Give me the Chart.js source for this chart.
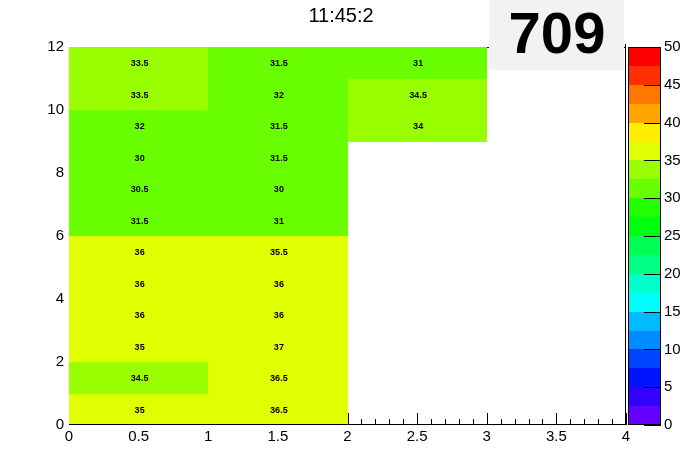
<!DOCTYPE html>
<html><head><meta charset="utf-8">
<script src="https://cdn.jsdelivr.net/npm/chart.js@4.4.1/dist/chart.umd.min.js"></script>
<style>html,body{margin:0;padding:0;background:#fff;}#wrap{width:696px;height:472px;position:relative;}</style>
</head><body><div id="wrap"><canvas id="c" width="696" height="472"></canvas></div>
<script>
// bin centres along x and y
const xCenters = [0.5, 1.5, 2.5];
const yCenters = [0.5, 1.5, 2.5, 3.5, 4.5, 5.5, 6.5, 7.5, 8.5, 9.5, 10.5, 11.5];
// cell values per column (bottom to top); null = empty
const col0 = [35, 34.5, 35, 36, 36, 36, 31.5, 30.5, 30, 32, 33.5, 33.5];
const col1 = [36.5, 36.5, 37, 36, 36, 35.5, 31, 30, 31.5, 31.5, 32, 31.5];
const col2 = [null, null, null, null, null, null, null, null, null, 34, 34.5, 31];
const xTickLabels = ['0','0.5','1','1.5','2','2.5','3','3.5','4'];
const yTickLabels = ['0','2','4','6','8','10','12'];
const zTickLabels = ['0','5','10','15','20','25','30','35','40','45','50'];
const titleText = '11:45:2';
const bigNumber = '709';
const zMin = 0, zMax = 50, nContours = 20;

const cols = [col0, col1, col2];
const cells = [];
cols.forEach((col, i) => col.forEach((v, j) => { if (v !== null) cells.push({x: xCenters[i], y: yCenters[j], v: v}); }));

const FONT = "'Liberation Sans', Arial, Helvetica, sans-serif";
function bandColor(b) {
  const idx = Math.floor((b + 0.99) * 50 / nContours);
  const hue = 280 - (idx + 1) * 5.6;
  return 'hsl(' + hue + ',100%,50%)';
}
function valueColor(v) {
  let b = Math.floor(0.01 + (v - zMin) * nContours / (zMax - zMin));
  b = Math.max(0, Math.min(nContours - 1, b));
  return bandColor(b);
}

const heatPlugin = {
  id: 'heat',
  beforeDatasetsDraw(chart) {
    const ctx = chart.ctx, xs = chart.scales.x, ys = chart.scales.y, zs = chart.scales.z;
    const a = chart.chartArea;
    const R = Math.round;
    ctx.save();
    // frame
    ctx.strokeStyle = '#000'; ctx.lineWidth = 1;
    ctx.strokeRect(a.left + 0.5, a.top + 0.5, a.right - a.left - 1, a.bottom - a.top - 1);
    // x ticks inward
    ctx.beginPath();
    for (let k = 0; k <= 40; k++) {
      const v = k / 10;
      const px = R(xs.getPixelForValue(v)) + 0.5;
      const len = (k % 5 === 0) ? 12 : 6;
      ctx.moveTo(px, a.bottom); ctx.lineTo(px, a.bottom - len);
    }
    ctx.stroke();
    // cells
    const ds = chart.data.datasets[0].data;
    ds.forEach(c => {
      const x0 = R(xs.getPixelForValue(c.x - 0.5)), x1 = R(xs.getPixelForValue(c.x + 0.5));
      const y0 = R(ys.getPixelForValue(c.y + 0.5)), y1 = R(ys.getPixelForValue(c.y - 0.5));
      ctx.fillStyle = valueColor(c.v);
      ctx.fillRect(x0, y0, x1 - x0, y1 - y0);
    });
    ctx.fillStyle = '#000';
    ctx.font = 'bold 9px ' + FONT;
    ctx.textAlign = 'center'; ctx.textBaseline = 'middle';
    ds.forEach(c => {
      ctx.fillText(String(c.v), xs.getPixelForValue(c.x) + 1, ys.getPixelForValue(c.y) + 1);
    });
    // bottom axis line & right frame
    ctx.beginPath();
    ctx.moveTo(a.left, a.bottom - 0.5); ctx.lineTo(a.right, a.bottom - 0.5);
    ctx.moveTo(a.right - 0.5, a.top - 3); ctx.lineTo(a.right - 0.5, a.bottom);
    ctx.stroke();
    // colour bar
    const cbL = R(a.right + 2), cbR = R(a.right + 35);
    for (let b = 0; b < nContours; b++) {
      const lo = zMin + b * (zMax - zMin) / nContours, hi = zMin + (b + 1) * (zMax - zMin) / nContours;
      const py0 = R(zs.getPixelForValue(hi)), py1 = R(zs.getPixelForValue(lo));
      ctx.fillStyle = bandColor(b);
      ctx.fillRect(cbL, py0, cbR - cbL, py1 - py0);
    }
    ctx.strokeStyle = '#000';
    const zt = R(zs.getPixelForValue(zMax)), zb = R(zs.getPixelForValue(zMin));
    ctx.strokeRect(cbL + 0.5, zt + 0.5, cbR - cbL - 1, zb - zt - 1);
    ctx.beginPath();
    zTickLabels.forEach(t => {
      const py = R(zs.getPixelForValue(parseFloat(t))) + 0.5;
      ctx.moveTo(cbR, py); ctx.lineTo(cbR - 17, py);
    });
    ctx.stroke();
    // big number box
    ctx.fillStyle = '#f2f2f2';
    ctx.fillRect(489, 0, 135, 70);
    ctx.fillStyle = '#000';
    ctx.font = 'bold 58px ' + FONT;
    ctx.textAlign = 'center'; ctx.textBaseline = 'middle';
    ctx.fillText(bigNumber, 557, 37);
    // title
    ctx.font = '20px ' + FONT;
    ctx.fillText(titleText, 341, 16);
    ctx.restore();
  }
};

new Chart(document.getElementById('c'), {
  type: 'scatter',
  data: { datasets: [{ data: cells, pointRadius: 0, pointHoverRadius: 0, showLine: false }] },
  options: {
    responsive: false, animation: false, devicePixelRatio: 1,
    events: [],
    layout: { padding: { top: 46, left: 0, right: 0, bottom: 0 } },
    plugins: { legend: { display: false }, tooltip: { enabled: false }, title: { display: false } },
    scales: {
      x: {
        type: 'linear', min: 0, max: 4,
        afterBuildTicks(s) { s.ticks = xTickLabels.map(t => ({ value: parseFloat(t) })); },
        afterFit(s) { s.height = 47; },
        grid: { display: false, drawTicks: false }, border: { display: false },
        ticks: { padding: 3, color: '#000', font: { family: FONT, size: 15 }, maxRotation: 0, autoSkip: false,
          callback: (v, i) => xTickLabels[i] }
      },
      y: {
        type: 'linear', min: 0, max: 12,
        afterBuildTicks(s) { s.ticks = yTickLabels.map(t => ({ value: parseFloat(t) })); },
        afterFit(s) { s.width = 69; },
        grid: { display: false, drawTicks: false }, border: { display: false },
        ticks: { padding: 5, color: '#000', font: { family: FONT, size: 15 }, autoSkip: false,
          callback: (v, i) => yTickLabels[i] }
      },
      z: {
        type: 'linear', position: 'right', min: zMin, max: zMax,
        afterBuildTicks(s) { s.ticks = zTickLabels.map(t => ({ value: parseFloat(t) })); },
        afterFit(s) { s.width = 70; },
        grid: { display: false, drawTicks: false }, border: { display: false },
        ticks: { padding: 38, color: '#000', font: { family: FONT, size: 15 }, autoSkip: false,
          callback: (v, i) => zTickLabels[i] }
      }
    }
  },
  plugins: [heatPlugin]
});
</script></body></html>
